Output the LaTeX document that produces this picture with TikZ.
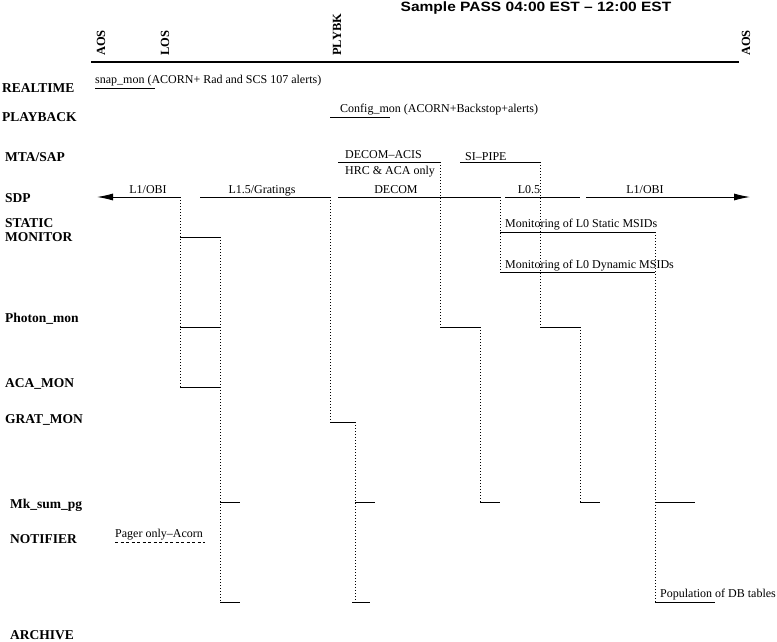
\documentclass[tikz,border=0pt]{standalone}
\usepackage{fontspec}
\setmainfont{Liberation Serif}
\newfontfamily\titlefont[FakeStretch=1.15]{Liberation Sans}
\usetikzlibrary{arrows.meta}
\begin{document}
\begin{tikzpicture}[x=1pt,y=-1pt,
  rowlabel/.style={anchor=base west,inner sep=0pt,font=\fontsize{13.5}{14.5}\selectfont\bfseries},
  vlabel/.style={rotate=90,anchor=west,inner sep=0pt,font=\fontsize{12.5}{14}\selectfont\bfseries},
  small/.style={anchor=base west,inner sep=0pt,font=\fontsize{12}{14}\selectfont},
  title/.style={inner sep=0pt,font=\titlefont\fontsize{13.5}{15}\selectfont\bfseries},
  solid line/.style={line width=0.9pt},
  dotline/.style={line width=0.9pt,dash pattern=on 1pt off 2pt},
  dashline/.style={line width=0.9pt,dash pattern=on 3pt off 2.5pt},
  bigarrow/.style={line width=0.9pt,-{Latex[length=16pt,width=7pt]}}
]
\path[use as bounding box] (0,0) rectangle (777,642);

% title and timeline
\node[title] (title) at (536,8) {Sample PASS 04:00 EST – 12:00 EST};
\coordinate (tl0) at (91,62);
\coordinate (tl1) at (739,62);
\draw[line width=2pt] (tl0) -- (tl1);
\node[vlabel] (aos1) at (101,56) {AOS};
\node[vlabel] (los) at (165,56) {LOS};
\node[vlabel] (plybk) at (337,56) {PLYBK};
\node[vlabel] (aos2) at (746,56) {AOS};

% row labels
\node[rowlabel] (realtime) at (2,92.5) {REALTIME};
\node[rowlabel] (playback) at (2,121.5) {PLAYBACK};
\node[rowlabel] (mtasap) at (5,161.5) {MTA/SAP};
\node[rowlabel] (sdp) at (5,202.5) {SDP};
\node[rowlabel] (static) at (5,227) {STATIC};
\node[rowlabel] (monitor) at (5,241) {MONITOR};
\node[rowlabel] (photon) at (5,322) {Photon\_mon};
\node[rowlabel] (acamon) at (5,387) {ACA\_MON};
\node[rowlabel] (gratmon) at (5,423) {GRAT\_MON};
\node[rowlabel] (mksum) at (10,508) {Mk\_sum\_pg};
\node[rowlabel] (notifier) at (10,543) {NOTIFIER};
\node[rowlabel] (archive) at (10,639.5) {ARCHIVE};

% REALTIME / PLAYBACK
\node[small] (snap) at (95,84) {snap\_mon (ACORN+ Rad and SCS 107 alerts)};
\coordinate (s0) at (95,88); \coordinate (s1) at (155,88);
\draw[solid line] (s0) -- (s1);
\node[small] (config) at (340,113) {Config\_mon (ACORN+Backstop+alerts)};
\coordinate (c0) at (330,117); \coordinate (c1) at (390,117);
\draw[solid line] (c0) -- (c1);

% MTA/SAP
\node[small] (decomacis) at (345,158) {DECOM–ACIS};
\node[small] (hrc) at (345,174.5) {HRC \& ACA only};
\coordinate (da0) at (338,162); \coordinate (da1) at (440,162);
\draw[solid line] (da0) -- (da1);
\node[small] (sipipe) at (465,160) {SI–PIPE};
\coordinate (sp0) at (460,162); \coordinate (sp1) at (540,162);
\draw[solid line] (sp0) -- (sp1);

% SDP row
\node[small,anchor=base] (l1a) at (148,193) {L1/OBI};
\node[small,anchor=base] (l15) at (262,193) {L1.5/Gratings};
\node[small,anchor=base] (decom) at (396,193) {DECOM};
\node[small,anchor=base] (l05) at (529,193) {L0.5};
\node[small,anchor=base] (l1b) at (645,193) {L1/OBI};
\coordinate (a0) at (180,197); \coordinate (atip) at (97,197);
\draw[bigarrow] (a0) -- (atip);
\coordinate (g0) at (200,197); \coordinate (g1) at (330,197);
\draw[solid line] (g0) -- (g1);
\coordinate (d0) at (338,197); \coordinate (d1) at (500,197);
\draw[solid line] (d0) -- (d1);
\coordinate (h0) at (505,197); \coordinate (h1) at (580,197);
\draw[solid line] (h0) -- (h1);
\coordinate (b0) at (586,197); \coordinate (btip) at (750,197);
\draw[bigarrow] (b0) -- (btip);

% branch from L1/OBI (left)
\coordinate (p1) at (180,387);
\draw[dotline] (a0) -- (p1);
\coordinate (q1) at (180,237); \coordinate (q2) at (220,237);
\coordinate (q3) at (180,327); \coordinate (q4) at (220,327);
\coordinate (q6) at (220,387);
\draw[solid line] (q1) -- (q2);
\draw[solid line] (q3) -- (q4);
\draw[solid line] (p1) -- (q6);
\coordinate (q7) at (220,602);
\draw[dotline] (q2) -- (q7);
\coordinate (q8) at (220,502); \coordinate (q9) at (240,502);
\coordinate (q10) at (240,602);
\draw[solid line] (q8) -- (q9);
\draw[solid line] (q7) -- (q10);

% branch from L1.5/Gratings
\coordinate (r1) at (330,422); \coordinate (r2) at (355,422);
\draw[dotline] (g1) -- (r1);
\draw[solid line] (r1) -- (r2);
\coordinate (r3) at (355,602);
\draw[dotline] (r2) -- (r3);
\coordinate (r4) at (355,502); \coordinate (r5) at (375,502);
\draw[solid line] (r4) -- (r5);
\coordinate (r6) at (352,602); \coordinate (r7) at (370,602);
\draw[solid line] (r6) -- (r7);

% branch from DECOM-ACIS
\coordinate (t1) at (440,327); \coordinate (t2) at (480,327);
\draw[dotline] (da1) -- (t1);
\draw[solid line] (t1) -- (t2);
\coordinate (t3) at (480,502); \coordinate (t4) at (500,502);
\draw[dotline] (t2) -- (t3);
\draw[solid line] (t3) -- (t4);

% branch from SI-PIPE
\coordinate (u1) at (540,327); \coordinate (u2) at (580,327);
\draw[dotline] (sp1) -- (u1);
\draw[solid line] (u1) -- (u2);
\coordinate (u3) at (580,502); \coordinate (u4) at (600,502);
\draw[dotline] (u2) -- (u3);
\draw[solid line] (u3) -- (u4);

% L0 monitoring
\coordinate (m1) at (500,272);
\draw[dotline] (d1) -- (m1);
\coordinate (ms0) at (500,232); \coordinate (ms1) at (655,232);
\coordinate (md1) at (655,272);
\draw[solid line] (ms0) -- (ms1);
\draw[solid line] (m1) -- (md1);
\node[small] (mstat) at (505,227) {Monitoring of L0 Static MSIDs};
\node[small] (mdyn) at (505,268) {Monitoring of L0 Dynamic MSIDs};
\coordinate (m2) at (655,602);
\draw[dotline] (ms1) -- (m2);
\coordinate (m3) at (655,502); \coordinate (m4) at (695,502);
\draw[solid line] (m3) -- (m4);
\coordinate (m5) at (715,602);
\draw[solid line] (m2) -- (m5);
\node[small] (popdb) at (660,597) {Population of DB tables};

% notifier
\node[small] (pager) at (115,537) {Pager only–Acorn};
\coordinate (n0) at (115,542); \coordinate (n1) at (205,542);
\draw[dashline] (n0) -- (n1);
\end{tikzpicture}
\end{document}
